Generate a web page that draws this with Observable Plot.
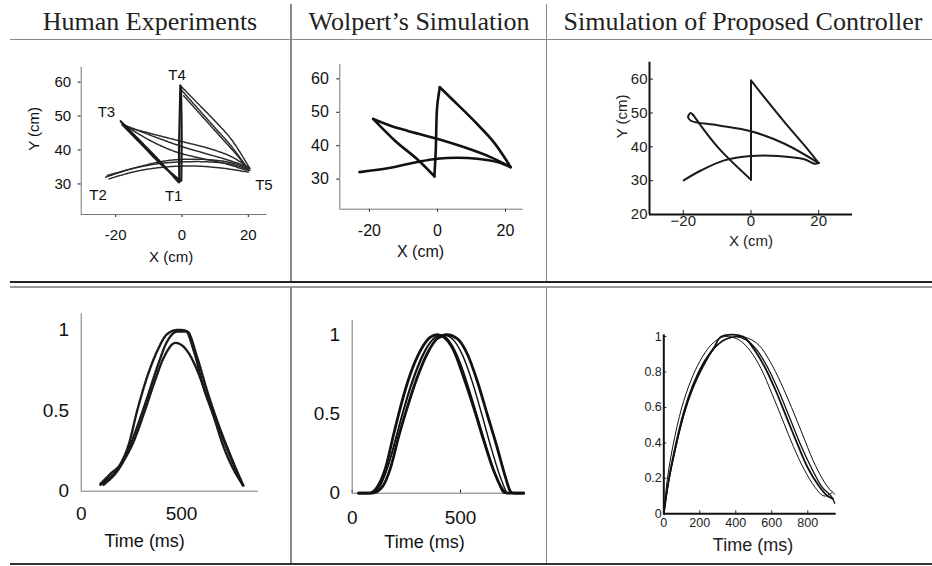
<!DOCTYPE html>
<html><head><meta charset="utf-8">
<script src="https://cdn.jsdelivr.net/npm/d3@7"></script>
<script src="https://cdn.jsdelivr.net/npm/@observablehq/plot@0.6"></script>
<style>
body{margin:0;background:#fff;}
#fig{position:relative;width:932px;height:566px;overflow:hidden;background:#fff;}
.hdr{position:absolute;top:7px;font-family:"Liberation Serif","Times New Roman",serif;font-size:26px;color:#222;white-space:nowrap;transform:translateX(-50%);line-height:normal;}
.ln{position:absolute;}
.panel{position:absolute;}
.panel svg{overflow:visible;}
</style></head>
<body><div id="fig"></div>
<script>
// ---------- text ----------
const columnTitles = ["Human Experiments", "Wolpert\u2019s Simulation", "Simulation of Proposed Controller"];
const targetNames = ["T1", "T2", "T3", "T4", "T5"];
const targetLabelX = [-2.5, -25.3, -22.8, -1.5, 24.7];
const targetLabelY = [26.5, 26.8, 51.1, 62, 29.5];

// ---------- ticks ----------
const posTicksX = [-20, 0, 20];
const posTicksY = [30, 40, 50, 60];
const propPosTicksY = [20, 30, 40, 50, 60];
const velTicksX = [0, 500];
const velTicksY = [0, 0.5, 1];
const propVelTicksX = [0, 200, 400, 600, 800];
const propVelTicksY = [0, 0.2, 0.4, 0.6, 0.8, 1];

// ---------- human hand paths (x cm, y cm), several trials per movement ----------
const humanT1T4 = [
  [[-0.8,30.5],[-0.9,40],[-0.7,50],[-0.5,59]],
  [[-0.2,31],[-0.1,45],[-0.3,58.5]]
];
const humanT4T5 = [
  [[-0.5,59],[5,53.5],[10,48.5],[15,43],[20.5,34.5]],
  [[0,57.5],[5,52],[10,46.5],[15,41],[19.5,35]],
  [[0.5,56],[6,50],[12,43.5],[17,38],[20,34]]
];
const humanT5T3 = [
  [[20.5,34.5],[15,38],[8,40.5],[0,42.5],[-8,44.5],[-17,46.8]],
  [[20,35],[14,37],[7,39],[0,41],[-8,43.8],[-17,47.2]],
  [[19.5,34],[13,36],[6,37.5],[-2,39.5],[-10,43],[-18,47.8]]
];
const humanT3T1 = [
  [[-18.5,48.5],[-13,43],[-7,37],[-1,30.5]],
  [[-18,47.5],[-12,41.5],[-6,35.5],[-0.5,31]]
];
const humanT2T5 = [
  [[-23,32],[-15,34.5],[-7,36],[0,36.5],[8,36.5],[15,35.8],[20.5,34]],
  [[-22.5,32.5],[-14,34.8],[-5,36.8],[3,37.3],[10,37],[16,36],[20,34.5]],
  [[-22,31.5],[-14,33.7],[-5,35],[3,35.3],[11,34.8],[20,33.5]]
];

// ---------- Wolpert's simulated path ----------
const wolpertPath = [
  [[-22.9,32.1],[-13.8,33.4],[-6,35.1],[-0.1,36.1],[5.8,36.4],[11.7,36.1],[17.6,35.1],[21.5,33.6]],
  [[21.5,33.6],[15.6,36.6],[7.7,39.6],[-0.1,42.1],[-8.9,44.5],[-13.8,46],[-18.9,48]],
  [[-18.9,48],[-12.5,41.5],[-6,36],[-0.9,30.8]],
  [[-0.9,30.8],[-0.5,38.6],[-0.1,51.5],[0.7,57.5]],
  [[0.7,57.5],[4,54.2],[10.7,47.5],[16.6,41],[21.5,33.6]]
];

// ---------- proposed controller path ----------
const proposedPath = [
  [[-19.9,30.1],[-14.8,33],[-7.9,36],[0,37.3],[7.9,37.3],[15.8,36.3],[18.8,35],[20,35.2]],
  [[20,35.2],[9.9,40.9],[0,44.6],[-9.9,46.4],[-17.8,47.7],[-18.6,48.8],[-17.8,50],[-17,49.3]],
  [[-17,49.3],[-9.9,40],[0,30.3]],
  [[0,30.3],[0,45],[0,59.6]],
  [[0,59.6],[3,55.8],[9.9,47.3],[15.8,40.4],[20,35.2]]
];

// ---------- normalised speed profiles (t ms, v) ----------
const humanVelA = [[96,0.046],[146,0.108],[196,0.17],[237,0.29],[279,0.5],[329,0.71],[379,0.87],[429,0.975],[479,1.0],[520,0.996],[561,0.87],[611,0.64],[661,0.46],[711,0.27],[761,0.13],[808,0.035]];
const humanVelB = [[96,0.04],[196,0.16],[262,0.31],[312,0.48],[362,0.665],[412,0.83],[470,0.92],[528,0.87],[578,0.75],[628,0.58],[678,0.42],[744,0.21],[803,0.04]];
const humanVelC = [[111,0.04],[212,0.19],[279,0.4],[329,0.58],[379,0.77],[429,0.93],[479,0.99],[528,0.99],[578,0.83],[628,0.62],[694,0.38],[761,0.17],[808,0.035]];

const wolpertVelA = [[30,0],[77,0],[115,0.038],[154,0.16],[192,0.375],[231,0.585],[269,0.754],[315,0.9],[361,0.985],[392,1.0],[423,0.985],[469,0.9],[515,0.73],[561,0.54],[608,0.33],[654,0.14],[692,0.028],[715,0],[792,0]];
const wolpertVelB = [[30,0],[92,0],[138,0.038],[177,0.16],[215,0.36],[254,0.54],[300,0.73],[346,0.88],[392,0.975],[438,1.0],[485,0.975],[531,0.88],[577,0.71],[623,0.5],[669,0.29],[708,0.1],[731,0.01],[745,0],[792,0]];
const wolpertVelC = [[30,0],[84,0],[130,0.05],[177,0.22],[223,0.45],[269,0.66],[315,0.83],[361,0.95],[408,1.0],[454,0.95],[500,0.82],[546,0.63],[592,0.42],[638,0.21],[677,0.06],[700,0],[792,0]];
const wolpertVelD = [[30,0],[85,0],[125,0.04],[165,0.17],[205,0.37],[245,0.57],[290,0.76],[335,0.9],[380,0.98],[420,1.0],[465,0.97],[510,0.87],[555,0.7],[600,0.49],[645,0.27],[690,0.08],[720,0],[792,0]];

const proposedVelA = [[0,0],[20,0.2],[50,0.38],[100,0.6],[150,0.75],[200,0.86],[260,0.95],[320,0.995],[360,1.0],[420,0.98],[480,0.92],[540,0.82],[600,0.68],[660,0.53],[720,0.38],[780,0.25],[840,0.15],[880,0.105],[900,0.1],[920,0.11],[935,0.12]];
const proposedVelB = [[0,0],[25,0.18],[60,0.36],[110,0.57],[160,0.72],[220,0.85],[280,0.94],[320,1.0],[440,1.0],[500,0.93],[560,0.83],[620,0.7],[680,0.55],[740,0.4],[800,0.26],[860,0.16],[910,0.1],[940,0.085]];
const proposedVelC = [[0,0],[25,0.17],[60,0.35],[110,0.555],[160,0.71],[220,0.84],[280,0.935],[340,0.985],[400,1.0],[460,0.98],[520,0.92],[580,0.82],[640,0.69],[700,0.54],[760,0.39],[820,0.26],[880,0.15],[930,0.1],[950,0.06]];
const proposedVelD = [[0,0],[25,0.17],[60,0.34],[110,0.55],[160,0.7],[220,0.83],[280,0.93],[340,0.98],[410,1.0],[470,0.99],[530,0.95],[590,0.86],[650,0.74],[710,0.6],[770,0.45],[830,0.3],[880,0.2],[920,0.14],[940,0.12],[950,0.11]];

// ---------- helpers ----------
const FONT = "'Liberation Sans', Arial, Helvetica, sans-serif";
const rows = (traces) => traces.flatMap((pts, i) => pts.map(([x, y]) => ({id: i, x, y})));
const fig = document.getElementById("fig");
function line(left, top, w, h, color) {
  const d = document.createElement("div");
  d.className = "ln";
  Object.assign(d.style, {left: left + "px", top: top + "px", width: w + "px", height: h + "px", background: color});
  fig.appendChild(d);
}
function place(el, left, top, w, h) {
  const d = document.createElement("div");
  d.className = "panel";
  Object.assign(d.style, {left: left + "px", top: top + "px", width: w + "px", height: h + "px"});
  d.appendChild(el);
  fig.appendChild(d);
}
const hyphen = d => String(d);
const minus = d => d < 0 ? "\u2212" + (-d) : String(d);

// ---------- table frame ----------
line(10, 38.5, 922, 1.5, "#8a8a8a");
line(290, 4, 1.5, 277, "#8a8a8a");
line(545.5, 4, 1.5, 277, "#8a8a8a");
line(10, 281, 922, 1.5, "#222");
line(10, 286, 922, 1.5, "#9a9a9a");
line(290, 287, 1.5, 276, "#8a8a8a");
line(545.5, 287, 1.5, 276, "#8a8a8a");
line(10, 563, 922, 2, "#333");
const hx = [150, 419, 743];
columnTitles.forEach((t, i) => {
  const d = document.createElement("div");
  d.className = "hdr"; d.textContent = t; d.style.left = hx[i] + "px";
  fig.appendChild(d);
});

// ---------- panel 1: human paths ----------
{
  const xd = [-30.4, 25.7], yd = [21, 64.4];
  const dotted = {x: "x", y: "y", z: "id", curve: "catmull-rom", stroke: "#2a2a2a", strokeWidth: 1.5, strokeDasharray: "1.6,1"};
  const p = Plot.plot({
    width: 290, height: 230, marginLeft: 80.7, marginRight: 23.3, marginTop: 16.7, marginBottom: 66,
    style: {fontFamily: FONT, fontSize: "15px", background: "transparent", color: "#111"},
    x: {domain: xd, ticks: posTicksX, tickFormat: hyphen, tickSize: 3, tickPadding: 12, label: null},
    y: {domain: yd, ticks: posTicksY, tickFormat: hyphen, tickSize: 3, tickPadding: 7, label: null},
    marks: [
      Plot.ruleX([xd[0]], {stroke: "#777"}),
      Plot.ruleY([yd[0]], {stroke: "#777"}),
      Plot.line(rows(humanT4T5), dotted),
      Plot.line(rows(humanT5T3), dotted),
      Plot.line(rows(humanT2T5), dotted),
      Plot.line(rows(humanT1T4), {x: "x", y: "y", z: "id", curve: "catmull-rom", stroke: "#1a1a1a", strokeWidth: 2.2, strokeDasharray: "2.5,0.8"}),
      Plot.line(rows(humanT3T1), {x: "x", y: "y", z: "id", curve: "catmull-rom", stroke: "#1a1a1a", strokeWidth: 2.2, strokeDasharray: "2.5,0.8"}),
      Plot.text(targetNames, {x: (d, i) => targetLabelX[i], y: (d, i) => targetLabelY[i], text: d => d, fontSize: 15}),
      Plot.text(["X (cm)"], {text: d => d, frameAnchor: "bottom", dx: -3, dy: 47, fontSize: 15}),
      Plot.text(["Y (cm)"], {text: d => d, frameAnchor: "left", rotate: -90, dx: -47, dy: 10, fontSize: 15})
    ]
  });
  place(p, 0, 50, 290, 230);
}

// ---------- panel 2: Wolpert paths ----------
{
  const xd = [-28.7, 25.2], yd = [21, 64.3];
  const p = Plot.plot({
    width: 254, height: 230, marginLeft: 47.3, marginRight: 23.3, marginTop: 14, marginBottom: 71.3,
    style: {fontFamily: FONT, fontSize: "16px", background: "transparent", color: "#111"},
    x: {domain: xd, ticks: posTicksX, tickFormat: hyphen, tickSize: 3, tickPadding: 12, label: null},
    y: {domain: yd, ticks: posTicksY, tickFormat: hyphen, tickSize: 3, tickPadding: 8, label: null},
    marks: [
      Plot.ruleX([xd[0]], {stroke: "#777"}),
      Plot.ruleY([yd[0]], {stroke: "#777"}),
      Plot.line(rows(wolpertPath), {x: "x", y: "y", z: "id", curve: "catmull-rom", stroke: "#111", strokeWidth: 2.6, strokeLinejoin: "round"}),
      Plot.text(["X (cm)"], {text: d => d, frameAnchor: "bottom", dx: -11, dy: 48, fontSize: 16})
    ]
  });
  place(p, 292, 50, 254, 230);
}

// ---------- panel 3: proposed controller paths ----------
{
  const xd = [-30, 30], yd = [20, 65];
  const p = Plot.plot({
    width: 385, height: 230, marginLeft: 102, marginRight: 80, marginTop: 11.7, marginBottom: 66,
    style: {fontFamily: FONT, fontSize: "15px", background: "transparent", color: "#222"},
    x: {domain: xd, ticks: posTicksX, tickFormat: minus, tickSize: -4, tickPadding: 5, label: null},
    y: {domain: yd, ticks: propPosTicksY, tickFormat: minus, tickSize: -4, tickPadding: 6, label: null},
    marks: [
      Plot.ruleX([xd[0]], {stroke: "#111", strokeWidth: 2}),
      Plot.ruleY([yd[0]], {stroke: "#111", strokeWidth: 2}),
      Plot.line(rows(proposedPath), {x: "x", y: "y", z: "id", curve: "catmull-rom", stroke: "#1a1a1a", strokeWidth: 2, strokeLinejoin: "round"}),
      Plot.text(["X (cm)"], {text: d => d, frameAnchor: "bottom", dy: 31, fontSize: 15}),
      Plot.text(["Y (cm)"], {text: d => d, frameAnchor: "left", rotate: -90, dx: -27, dy: 0, fontSize: 15})
    ]
  });
  place(p, 547, 50, 385, 230);
}

// ---------- panel 4: human speed ----------
{
  const xd = [0, 882], yd = [0, 1.1];
  const dash = {curve: "monotone-x", stroke: "#1a1a1a", strokeWidth: 2.4, strokeDasharray: "2.5,1"};
  const p = Plot.plot({
    width: 290, height: 272, marginLeft: 80.7, marginRight: 32.3, marginTop: 23.3, marginBottom: 71.3,
    style: {fontFamily: FONT, fontSize: "19px", background: "transparent", color: "#111"},
    x: {domain: xd, ticks: velTicksX, tickFormat: hyphen, tickSize: 0, tickPadding: 15, label: null},
    y: {domain: yd, ticks: velTicksY, tickFormat: hyphen, tickSize: 0, tickPadding: 12, label: null},
    marks: [
      Plot.ruleX([xd[0]], {stroke: "#777"}),
      Plot.ruleY([yd[0]], {stroke: "#777"}),
      Plot.line(humanVelA, {x: d => d[0], y: d => d[1], ...dash}),
      Plot.line(humanVelB, {x: d => d[0], y: d => d[1], ...dash}),
      Plot.line(humanVelC, {x: d => d[0], y: d => d[1], ...dash}),
      Plot.text(["Time (ms)"], {text: d => d, frameAnchor: "bottom", dx: -25, dy: 56, fontSize: 18})
    ]
  });
  place(p, 0, 290, 290, 272);
}

// ---------- panel 5: Wolpert speed ----------
{
  const xd = [0, 797], yd = [0, 1.09];
  const p = Plot.plot({
    width: 254, height: 272, marginLeft: 59.7, marginRight: 21.7, marginTop: 30, marginBottom: 69.3,
    style: {fontFamily: FONT, fontSize: "19px", background: "transparent", color: "#111"},
    x: {domain: xd, ticks: velTicksX, tickFormat: hyphen, tickSize: -3, tickPadding: 20, label: null},
    y: {domain: yd, ticks: velTicksY, tickFormat: hyphen, tickSize: 0, tickPadding: 12, label: null},
    marks: [
      Plot.ruleX([xd[0]], {stroke: "#777"}),
      Plot.ruleY([yd[0]], {stroke: "#777"}),
      Plot.line(wolpertVelC, {x: d => d[0], y: d => d[1], curve: "monotone-x", stroke: "#111", strokeWidth: 1.4}),
      Plot.line(wolpertVelD, {x: d => d[0], y: d => d[1], curve: "monotone-x", stroke: "#111", strokeWidth: 1.4}),
      Plot.line(wolpertVelA, {x: d => d[0], y: d => d[1], curve: "monotone-x", stroke: "#111", strokeWidth: 2.8}),
      Plot.line(wolpertVelB, {x: d => d[0], y: d => d[1], curve: "monotone-x", stroke: "#111", strokeWidth: 2.8}),
      Plot.text(["Time (ms)"], {text: d => d, frameAnchor: "bottom", dx: -14, dy: 55, fontSize: 18})
    ]
  });
  place(p, 292, 290, 254, 272);
}

// ---------- panel 6: proposed controller speed ----------
{
  const xd = [0, 958], yd = [0, 1.01];
  const p = Plot.plot({
    width: 385, height: 272, marginLeft: 116.3, marginRight: 96.3, marginTop: 44.3, marginBottom: 48.7,
    style: {fontFamily: FONT, fontSize: "12.5px", background: "transparent", color: "#222"},
    x: {domain: xd, ticks: propVelTicksX, tickFormat: hyphen, tickSize: -3, tickPadding: 7, label: null},
    y: {domain: yd, ticks: propVelTicksY, tickFormat: hyphen, tickSize: -3, tickPadding: 5, label: null},
    marks: [
      Plot.ruleX([xd[0]], {stroke: "#111", strokeWidth: 2}),
      Plot.ruleY([yd[0]], {stroke: "#111", strokeWidth: 2}),
      Plot.line(proposedVelA, {x: d => d[0], y: d => d[1], curve: "catmull-rom", stroke: "#111", strokeWidth: 1}),
      Plot.line(proposedVelC, {x: d => d[0], y: d => d[1], curve: "catmull-rom", stroke: "#111", strokeWidth: 1.3}),
      Plot.line(proposedVelD, {x: d => d[0], y: d => d[1], curve: "catmull-rom", stroke: "#111", strokeWidth: 1}),
      Plot.line(proposedVelB, {x: d => d[0], y: d => d[1], curve: "catmull-rom", stroke: "#111", strokeWidth: 1.8}),
      Plot.text(["Time (ms)"], {text: d => d, frameAnchor: "bottom", dx: 3, dy: 37, fontSize: 18})
    ]
  });
  place(p, 547, 290, 385, 272);
}
</script></body></html>
